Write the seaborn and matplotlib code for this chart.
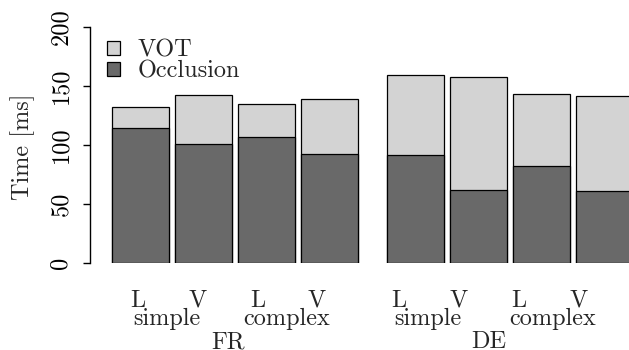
import numpy as np
import pandas as pd
import matplotlib
matplotlib.use("Agg")
import matplotlib.pyplot as plt
from matplotlib.patches import Patch
import seaborn as sns

# ---- data ----
groups = ["FR", "DE"]
complexities = ["simple", "complex"]
places = ["L", "V"]
occlusion = [114.6, 100.8, 107.0, 92.1, 91.3, 61.7, 82.5, 61.4]
vot = [17.7, 41.7, 27.9, 46.8, 68.1, 95.5, 60.9, 79.8]
yticks = [0, 50, 100, 150, 200]

# ---- style ----
sns.set_theme(style="white")
plt.rcParams["font.family"] = ["cmr10", "DejaVu Serif"]
plt.rcParams["axes.formatter.use_mathtext"] = True
FS = 17.5
LIGHT = "#d3d3d3"
DARK = "#696969"

W, H = 629, 350
fig = plt.figure(figsize=(W / 100, H / 100), dpi=100)
ax_left, ax_right, ax_top, ax_bot = 90, 629, 26.7, 263.3
ax = fig.add_axes([ax_left / W, (H - ax_bot) / H, (ax_right - ax_left) / W, (ax_bot - ax_top) / H])

# bar positions: space 0.1 between bars, 0.5 between groups
pitch, group_gap = 1.1, 1.5
pos = []
x = 0.0
for gi in range(len(groups)):
    for ci in range(len(complexities) * len(places)):
        pos.append(x)
        x += pitch
    x += group_gap - pitch
pos = np.array(pos)
total = np.array(occlusion) + np.array(vot)

df = pd.DataFrame({"x": pos, "total": total, "occ": occlusion})
sns.barplot(data=df, x="x", y="total", native_scale=True, orient="x", width=1 / pitch,
            color=LIGHT, saturation=1, edgecolor="black", linewidth=0.9, errorbar=None, ax=ax)
sns.barplot(data=df, x="x", y="occ", native_scale=True, orient="x", width=1 / pitch,
            color=DARK, saturation=1, edgecolor="black", linewidth=0.9, errorbar=None, ax=ax)

px_unit = 57.3
x0_px = 140.5
ax.set_xlim((ax_left - x0_px) / px_unit, (ax_right - x0_px) / px_unit)
ax.set_ylim(0, 200)

for s in ["top", "right", "bottom"]:
    ax.spines[s].set_visible(False)
ax.spines["left"].set_color("black")
ax.spines["left"].set_linewidth(1.0)
ax.set_yticks(yticks)
ax.set_yticklabels([str(t) for t in yticks], rotation=90, va="center", fontsize=FS)
ax.tick_params(axis="y", left=True, length=5, width=1.0, pad=8, colors="black")
ax.set_xticks([])
ax.set_xlabel("")
ax.set_ylabel("")
ax.grid(False)

fig.text(22.5 / W, 1 - 146.7 / H, "Time [ms]", rotation=90, ha="center", va="center", fontsize=FS)

def ay(py):
    return (ax_bot - py) / (ax_bot - ax_top)

tr = ax.get_xaxis_transform()
# category labels (positions)
lv_px = [138.3, 198, 258, 316.7, 399, 459, 519, 579]
labels_lv = places * 4
for p, lab in zip(lv_px, labels_lv):
    ax.text((p - x0_px) / px_unit, ay(306.7), lab, ha="center", va="baseline",
            fontsize=FS, transform=tr, clip_on=False)
cx_px = [166.5, 287, 428.3, 552.5]
for p, lab in zip(cx_px, complexities * 2):
    ax.text((p - x0_px) / px_unit, ay(325), lab, ha="center", va="baseline",
            fontsize=FS, transform=tr, clip_on=False)
g_px = [228, 489]
for p, lab in zip(g_px, groups):
    ax.text((p - x0_px) / px_unit, ay(348.3), lab, ha="center", va="baseline",
            fontsize=FS, transform=tr, clip_on=False)

handles = [Patch(facecolor=LIGHT, edgecolor="black", linewidth=0.9),
           Patch(facecolor=DARK, edgecolor="black", linewidth=0.9)]
fig.legend(handles, ["VOT", "Occlusion"], loc="upper left",
           bbox_to_anchor=(107 / W, 1 - 39.5 / H), frameon=False, fontsize=FS,
           borderpad=0, handlelength=0.55, handleheight=0.55, handletextpad=0.7,
           labelspacing=-0.05, borderaxespad=0)

fig.savefig("out.png", dpi=100)
